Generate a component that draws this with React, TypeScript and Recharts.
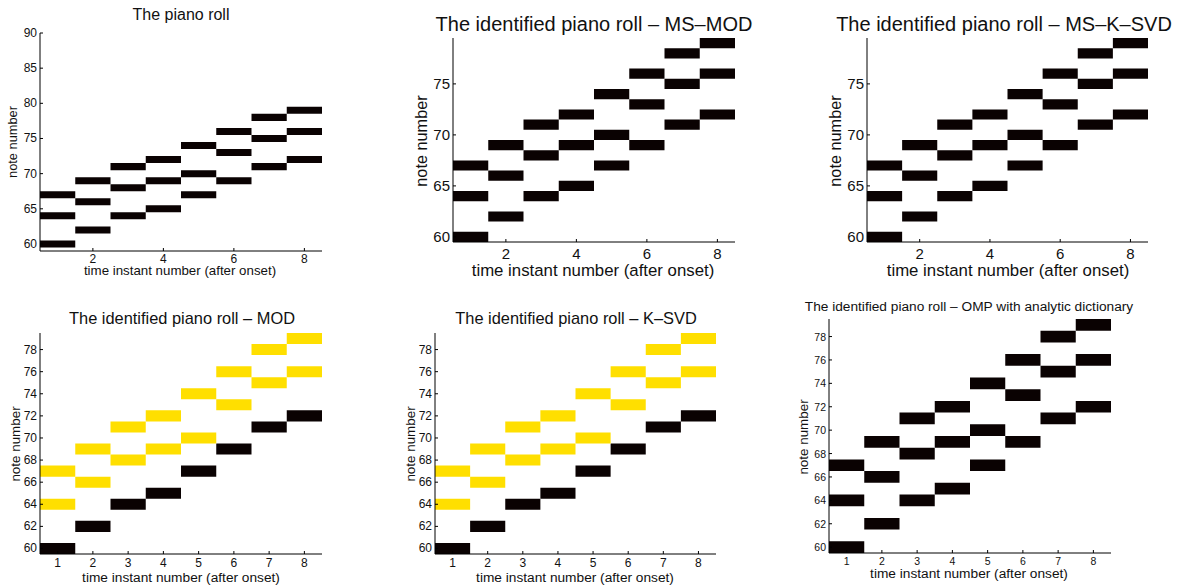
import React from "react";
import { ComposedChart, XAxis, YAxis, ReferenceArea } from "recharts";

// notes sounding at each time instant (three-note chords)
const timeInstants = [1, 2, 3, 4, 5, 6, 7, 8];
const lowerNotes = [60, 62, 64, 65, 67, 69, 71, 72];
const middleNotes = [64, 66, 68, 69, 70, 73, 75, 76];
const upperNotes = [67, 69, 71, 72, 74, 76, 78, 79];

// tick labels
const yTicksWide = [60, 65, 70, 75, 80, 85, 90];
const yTicksFive = [60, 65, 70, 75];
const yTicksTwo = [60, 62, 64, 66, 68, 70, 72, 74, 76, 78];
const xTicksEven = [2, 4, 6, 8];
const xTicksAll = [1, 2, 3, 4, 5, 6, 7, 8];

const FONT = '"Liberation Sans", Arial, Helvetica, sans-serif';
const BLACK = "#0a0202";
const YELLOW = "#ffdf00";

type Cell = { t: number; note: number; color: string };

function buildCells(rows: number[][], colors: string[]): Cell[] {
  const out: Cell[] = [];
  rows.forEach((notes, r) => {
    notes.forEach((note, i) => out.push({ t: timeInstants[i], note, color: colors[r] }));
  });
  return out;
}

const allBlack = buildCells([lowerNotes, middleNotes, upperNotes], [BLACK, BLACK, BLACK]);
const partial = buildCells([lowerNotes, middleNotes, upperNotes], [BLACK, YELLOW, YELLOW]);

type Box = { x: number; y: number; w: number; h: number };
type Txt = { x: number; y: number; size: number };

interface PanelProps {
  plot: Box;
  yDomain: [number, number];
  yTicks: number[];
  xTicks: number[];
  tickSize: number;
  xTickGap: number;
  title: string;
  titlePos: Txt;
  xLabelPos: Txt;
  yLabelPos: Txt;
  cells: Cell[];
}

const TICK = 3;

function Text({ pos, children, rotate }: { pos: Txt; children: React.ReactNode; rotate?: boolean }) {
  return (
    <div
      style={{
        position: "absolute",
        left: pos.x,
        top: pos.y,
        transform: `translate(-50%, -50%)${rotate ? " rotate(-90deg)" : ""}`,
        fontFamily: FONT,
        fontSize: pos.size,
        lineHeight: 1,
        whiteSpace: "nowrap",
        color: "#111",
      }}
    >
      {children}
    </div>
  );
}

function Panel(p: PanelProps) {
  const padL = 40;
  const padR = 6;
  const padT = 6;
  const padB = 26;
  const fs = p.tickSize;
  const bottomY = padT + p.plot.h;
  const topY = padT;
  const leftX = padL;
  const rightX = padL + p.plot.w;

  const bottomTick = (t: any) => (
    <g key={`b${t.index}`}>
      <line x1={t.x} y1={bottomY} x2={t.x} y2={bottomY - TICK} stroke="#000" />
      <text x={t.x} y={bottomY + p.xTickGap} textAnchor="middle" dominantBaseline="central" fontSize={fs} fontFamily={FONT} fill="#111">
        {t.payload.value}
      </text>
    </g>
  );
  const leftTick = (t: any) => (
    <g key={`l${t.index}`}>
      <line x1={leftX} y1={t.y} x2={leftX + TICK} y2={t.y} stroke="#000" />
      <text x={leftX - 3} y={t.y} textAnchor="end" dominantBaseline="central" fontSize={fs} fontFamily={FONT} fill="#111">
        {t.payload.value}
      </text>
    </g>
  );
  const topTick = (t: any) => <line key={`t${t.index}`} x1={t.x} y1={topY} x2={t.x} y2={topY + TICK} stroke="#000" />;
  const rightTick = (t: any) => <line key={`r${t.index}`} x1={rightX} y1={t.y} x2={rightX - TICK} y2={t.y} stroke="#000" />;

  return (
    <>
      <div style={{ position: "absolute", left: p.plot.x - padL, top: p.plot.y - padT }}>
        <ComposedChart
          width={p.plot.w + padL + padR}
          height={p.plot.h + padT + padB}
          data={p.cells}
          margin={{ top: padT, right: padR, left: 0, bottom: 0 }}
        >
          <XAxis
            xAxisId="b"
            type="number"
            dataKey="t"
            domain={[0.5, 8.5]}
            ticks={p.xTicks}
            interval={0}
            allowDataOverflow
            height={padB}
            tickSize={0}
            tickMargin={0}
            tickLine={false}
            axisLine={{ stroke: "#000" }}
            tick={bottomTick}
          />
          <XAxis
            xAxisId="t"
            orientation="top"
            type="number"
            domain={[0.5, 8.5]}
            ticks={p.xTicks}
            interval={0}
            allowDataOverflow
            height={0}
            tickSize={0}
            tickMargin={0}
            tickLine={false}
            axisLine={{ stroke: "#000" }}
            tick={topTick}
          />
          <YAxis
            yAxisId="l"
            type="number"
            dataKey="note"
            domain={p.yDomain}
            ticks={p.yTicks}
            interval={0}
            allowDataOverflow
            width={padL}
            tickSize={0}
            tickMargin={0}
            tickLine={false}
            axisLine={{ stroke: "#000" }}
            tick={leftTick}
          />
          <YAxis
            yAxisId="r"
            orientation="right"
            type="number"
            domain={p.yDomain}
            ticks={p.yTicks}
            interval={0}
            allowDataOverflow
            width={0}
            tickSize={0}
            tickMargin={0}
            tickLine={false}
            axisLine={{ stroke: "#000" }}
            tick={rightTick}
          />
          {p.cells.map((c, i) => (
            <ReferenceArea
              key={i}
              xAxisId="b"
              yAxisId="l"
              x1={c.t - 0.5}
              x2={c.t + 0.5}
              y1={c.note - 0.5}
              y2={c.note + 0.5}
              fill={c.color}
              fillOpacity={1}
              stroke="none"
              ifOverflow="visible"
            />
          ))}
        </ComposedChart>
      </div>
      <Text pos={p.titlePos}>{p.title}</Text>
      <Text pos={p.xLabelPos}>time instant number (after onset)</Text>
      <Text pos={p.yLabelPos} rotate>
        note number
      </Text>
    </>
  );
}

export default function App() {
  return (
    <div style={{ position: "absolute", left: 0, top: 0, width: 1188, height: 585, background: "#fff", overflow: "hidden" }}>
      <Panel
        plot={{ x: 40, y: 33, w: 282, h: 218 }}
        yDomain={[59, 90]}
        yTicks={yTicksWide}
        xTicks={xTicksEven}
        tickSize={12}
        xTickGap={7.5}
        title="The piano roll"
        titlePos={{ x: 181, y: 15, size: 16 }}
        xLabelPos={{ x: 180, y: 271, size: 13.3 }}
        yLabelPos={{ x: 13, y: 142, size: 12.8 }}
        cells={allBlack}
      />
      <Panel
        plot={{ x: 453, y: 38, w: 282, h: 204 }}
        yDomain={[59.5, 79.5]}
        yTicks={yTicksFive}
        xTicks={xTicksEven}
        tickSize={15}
        xTickGap={11.5}
        title="The identified piano roll – MS–MOD"
        titlePos={{ x: 594, y: 24, size: 20 }}
        xLabelPos={{ x: 593, y: 271, size: 16.8 }}
        yLabelPos={{ x: 421, y: 141, size: 16.3 }}
        cells={allBlack}
      />
      <Panel
        plot={{ x: 867, y: 38, w: 281, h: 204 }}
        yDomain={[59.5, 79.5]}
        yTicks={yTicksFive}
        xTicks={xTicksEven}
        tickSize={15}
        xTickGap={11.5}
        title="The identified piano roll – MS–K–SVD"
        titlePos={{ x: 1004, y: 24, size: 20 }}
        xLabelPos={{ x: 1008, y: 271, size: 16.8 }}
        yLabelPos={{ x: 835, y: 141, size: 16.3 }}
        cells={allBlack}
      />
      <Panel
        plot={{ x: 40, y: 333, w: 282, h: 221 }}
        yDomain={[59.5, 79.5]}
        yTicks={yTicksTwo}
        xTicks={xTicksAll}
        tickSize={12}
        xTickGap={8.5}
        title="The identified piano roll – MOD"
        titlePos={{ x: 182, y: 318, size: 16.4 }}
        xLabelPos={{ x: 181, y: 578, size: 13.7 }}
        yLabelPos={{ x: 16, y: 444, size: 13.4 }}
        cells={partial}
      />
      <Panel
        plot={{ x: 435, y: 333, w: 281, h: 221 }}
        yDomain={[59.5, 79.5]}
        yTicks={yTicksTwo}
        xTicks={xTicksAll}
        tickSize={12}
        xTickGap={8.5}
        title="The identified piano roll – K–SVD"
        titlePos={{ x: 576, y: 318, size: 16.4 }}
        xLabelPos={{ x: 575, y: 578, size: 13.7 }}
        yLabelPos={{ x: 411, y: 444, size: 13.4 }}
        cells={partial}
      />
      <Panel
        plot={{ x: 829, y: 319, w: 282, h: 234 }}
        yDomain={[59.5, 79.5]}
        yTicks={yTicksTwo}
        xTicks={xTicksAll}
        tickSize={10.5}
        xTickGap={7.5}
        title="The identified piano roll – OMP with analytic dictionary"
        titlePos={{ x: 969, y: 307, size: 13.7 }}
        xLabelPos={{ x: 969, y: 574, size: 13.7 }}
        yLabelPos={{ x: 804, y: 437, size: 13.4 }}
        cells={allBlack}
      />
    </div>
  );
}
